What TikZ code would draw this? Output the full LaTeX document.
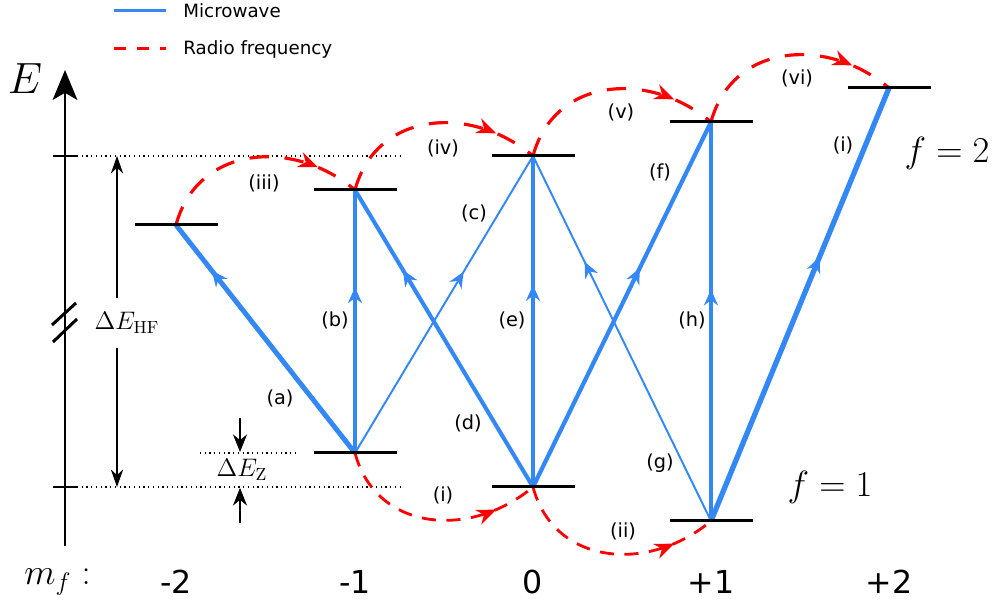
\documentclass[tikz,border=0pt]{standalone}
\usepackage{fontspec}
\usepackage{tikz}
\usetikzlibrary{arrows.meta,calc,decorations.markings}
\newfontfamily\lblfont{DejaVu Sans}
\definecolor{mwblue}{HTML}{3388F5}
\definecolor{rfred}{HTML}{FF0000}

\begin{document}
\begin{tikzpicture}[
  lbl/.style={font=\lblfont\fontsize{11}{13}\selectfont,inner sep=1pt},
  mftxt/.style={font=\lblfont\fontsize{18}{20}\selectfont},
  legtxt/.style={font=\lblfont\fontsize{10.4}{12}\selectfont,anchor=west,inner sep=0pt},
  bar/.style={draw=black,line width=1.7pt},
  mw/.style 2 args={draw=mwblue,line width=#1,postaction={decorate},
    decoration={markings,mark=at position #2 with {\arrow{Stealth[length=9pt,width=8pt]}}}},
  rf/.style={draw=rfred,line width=1.8pt,dash pattern=on 11pt off 9pt,looseness=1.15,postaction={decorate},
    decoration={markings,mark=at position 0.8 with {\arrow{Stealth[length=11pt,width=9pt]}}}},
  ax/.style={line width=1.7pt},
  gap/.style={line width=0.6pt},
  guide/.style={dotted,line width=0.7pt}
]
\useasboundingbox (0,0) rectangle (19.94,12.16);

% hyperfine levels
\coordinate (tm2) at (3.52,7.66);
\coordinate (tm1) at (7.10,8.36);
\coordinate (t0) at (10.66,9.04);
\coordinate (tp1) at (14.22,9.72);
\coordinate (tp2) at (17.78,10.40);
\coordinate (bm1) at (7.10,3.10);
\coordinate (b0) at (10.66,2.42);
\coordinate (bp1) at (14.22,1.74);

% energy axis
\coordinate (ebot) at (1.30,1.24);
\coordinate (etop) at (1.30,10.76);
\draw[ax,-{Stealth[length=17pt,width=14pt,inset=4pt]}] (ebot) -- (etop);
\node[font=\fontsize{24}{28}\selectfont] (elbl) at (0.50,10.58) {$E$};
\draw[ax] (1.04,5.66) -- (1.52,6.10);
\draw[ax] (1.06,5.32) -- (1.54,5.78);
\draw[line width=1pt] (1.06,9.04) -- (1.54,9.04);
\draw[line width=1pt] (1.06,2.42) -- (1.54,2.42);

\draw[guide] (1.54,9.04) -- (8.00,9.04);
\draw[guide] (1.54,2.42) -- (8.00,2.42);
\draw[guide] (4.00,3.10) -- (5.94,3.10);

% splittings
\coordinate (hft) at (2.34,9.04);
\coordinate (hfb) at (2.34,2.42);
\draw[gap,{Stealth[length=10pt,width=7pt]}-{Stealth[length=10pt,width=7pt]}] (hfb) -- (hft);
\node[fill=white,inner xsep=1pt,inner ysep=8pt,font=\Large] (hflbl) at (2.54,5.70) {$\Delta E_{\mathrm{HF}}$};
\coordinate (zt) at (4.80,3.80);
\coordinate (ztip) at (4.80,3.12);
\coordinate (zb) at (4.80,1.70);
\coordinate (zbtip) at (4.80,2.40);
\draw[gap,-{Stealth[length=10pt,width=8pt]}] (zt) -- (ztip);
\draw[gap,-{Stealth[length=10pt,width=8pt]}] (zb) -- (zbtip);
\node[font=\Large] (zlbl) at (4.84,2.76) {$\Delta E_{\mathrm{Z}}$};

% microwave
\draw[mw={2.8pt}{0.8}] (bm1) -- (tm2);
\draw[mw={2.0pt}{0.63}] (bm1) -- (tm1);
\draw[mw={1.1pt}{0.61}] (bm1) -- (t0);
\draw[mw={2.3pt}{0.73}] (b0) -- (tm1);
\draw[mw={2.4pt}{0.61}] (b0) -- (t0);
\draw[mw={2.4pt}{0.6}] (b0) -- (tp1);
\draw[mw={1.1pt}{0.71}] (bp1) -- (t0);
\draw[mw={2.0pt}{0.58}] (bp1) -- (tp1);
\draw[mw={3.0pt}{0.61}] (bp1) -- (tp2);

% radio frequency
\draw[rf] (tm2) to[out=75,in=140] (tm1);
\draw[rf] (tm1) to[out=75,in=140] (t0);
\draw[rf] (t0) to[out=75,in=140] (tp1);
\draw[rf] (tp1) to[out=75,in=140] (tp2);
\draw[rf,line width=1.6pt,dash pattern=on 8pt off 6pt] (bm1) to[out=-75,in=-140] (b0);
\draw[rf,line width=1.6pt,dash pattern=on 8pt off 6pt] (b0) to[out=-75,in=-140] (bp1);

% level bars
\draw[bar] (tm2) +(-0.83,0) -- +(0.83,0);
\draw[bar] (tm1) +(-0.83,0) -- +(0.83,0);
\draw[bar] (t0) +(-0.83,0) -- +(0.83,0);
\draw[bar] (tp1) +(-0.83,0) -- +(0.83,0);
\draw[bar] (tp2) +(-0.83,0) -- +(0.83,0);
\draw[bar] (bm1) +(-0.83,0) -- +(0.83,0);
\draw[bar] (b0) +(-0.83,0) -- +(0.83,0);
\draw[bar] (bp1) +(-0.83,0) -- +(0.83,0);

% transition labels
\node[lbl] (la) at (5.60,4.20) {(a)};
\node[lbl] (lb) at (6.70,5.76) {(b)};
\node[lbl] (lc) at (9.48,7.90) {(c)};
\node[lbl] (ld) at (9.36,3.70) {(d)};
\node[lbl] (le) at (10.24,5.76) {(e)};
\node[lbl] (lf) at (13.20,8.72) {(f)};
\node[lbl] (lg) at (13.20,2.90) {(g)};
\node[lbl] (lh) at (13.84,5.76) {(h)};
\node[lbl] (li) at (16.86,9.26) {(i)};
\node[lbl] (riii) at (5.28,8.50) {(iii)};
\node[lbl] (riv) at (8.86,9.20) {(iv)};
\node[lbl] (rv) at (12.42,9.92) {(v)};
\node[lbl] (rvi) at (15.94,10.60) {(vi)};
\node[lbl] (ri) at (8.86,2.26) {(i)};
\node[lbl] (rii) at (12.46,1.54) {(ii)};

\node[font=\huge] (f2) at (18.94,9.10) {$f=2$};
\node[font=\huge] (f1) at (16.60,2.42) {$f=1$};

% m_f row
\node[font=\huge] (mflbl) at (1.15,0.52) {$m_f :$};
\node[mftxt] (mm2) at (3.52,0.52) {-2};
\node[mftxt] (mm1) at (7.10,0.52) {-1};
\node[mftxt] (m0) at (10.66,0.52) {0};
\node[mftxt] (mp1) at (14.22,0.52) {+1};
\node[mftxt] (mp2) at (17.78,0.52) {+2};

% legend
\draw[draw=mwblue,line width=1.7pt] (2.28,11.94) -- (3.32,11.94);
\node[legtxt] (lgmw) at (3.66,11.94) {Microwave};
\draw[draw=rfred,line width=1.7pt,dash pattern=on 6.6pt off 6.6pt] (2.28,11.18) -- (3.32,11.18);
\node[legtxt] (lgrf) at (3.66,11.18) {Radio frequency};
\end{tikzpicture}
\end{document}
